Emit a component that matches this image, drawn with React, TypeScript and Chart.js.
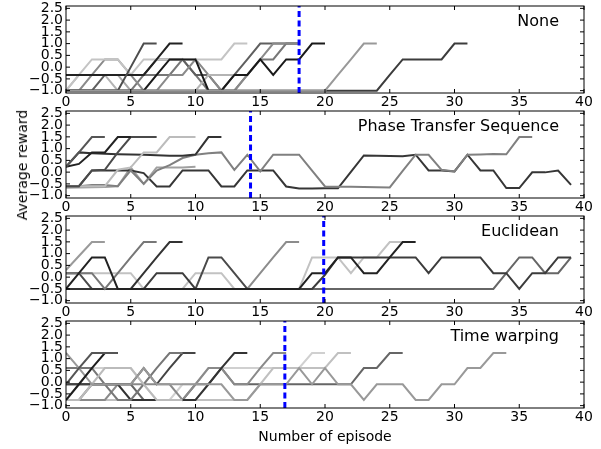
import React, { useEffect, useRef } from 'react';
import { Chart, registerables } from 'chart.js';

Chart.register(...registerables);
Chart.defaults.font.family = '"DejaVu Sans", sans-serif';

// ---------- axes / ticks ----------
const xTicks = [0, 5, 10, 15, 20, 25, 30, 35, 40];
const yTicks = [-1.0, -0.5, 0.0, 0.5, 1.0, 1.5, 2.0, 2.5];
const xMin = 0;
const xMax = 40;
const yMin = -1.1;
const yMax = 2.6;

const panelTitles = ['None', 'Phase Transfer Sequence', 'Euclidean', 'Time warping'];
const switchEpisodes = [18, 14.25, 19.9, 16.9];
const xLabel = 'Number of episode';
const yLabel = 'Average reward';

// ---------- panel 1 : None ----------
const noneSeries: number[][] = [
  [-1, -1, -1, -1, -1, -1, -1, -1, -1, -1, -1, -1, -1, -1, -1, -1, -1, -1, -1, -1, -1, -0.33, 0.33, 1, 1],
  [-1, -1, -1, -1, -1, -1, -1, -1, -1, -1, -1, -1, -1, -1, -1, -1, -1, -1, -1, -1, -1, -1, -1, -1, -1, -0.33, 0.33, 0.33, 0.33, 0.33, 1, 1],
  [-1, -1, -1, -1, -1, -1, -1, -0.33, 0.33, 0.33, 0.33, -1, -1, -0.33, -0.33, 0.33, -0.33, 0.33, 0.33, 1, 1],
  [-1, -1, -1, -1, -1, 0, 1, 1],
  [-0.33, -0.33, -0.33, -0.33, -0.33, -0.33, -0.33, 0.33, 1, 1],
  [-1, -0.33, 0.33, 0.33, 0.33, -0.33, 0.33, 0.33, 0.33, 0.33, 0.33, 0.33, 0.33, 1, 1],
  [-1, -0.33, -0.33, -0.33, -1, -1, -1, -1, -1, -1, -1, -0.33, -0.33, -0.33, -0.33],
  [-1, -1, -0.33, 0.33, 0.33, -0.33, -1, -1, -0.33, -0.33, 0.33, -0.33, -1, -1, -0.33, 0.33, 1, 1, 1],
  [-1, -1, -1, -0.33, -0.33, -0.33, -0.33, 0.33, 0.33, 0.33, -0.33, -0.33, -1, -0.33, 0.33, 1, 1, 1, 1],
  [-1, -1, -1, -1, -1, -1, -0.33, -0.33, -0.33, 0.33, -0.33, -1, -1, -1, -0.33, 0.33, 0.33, 1, 1],
  [-0.33, -0.33, -0.33, -0.33, -0.33, -1, -1, -1, -1, -1, -1, -1, -1, -1, -1, -1, -1, -1, -1, -1, -1],
];
const noneColors = ['#999999', '#3c3c3c', '#1a1a1a', '#4d4d4d', '#222222', '#c4c4c4', '#b4b4b4', '#8a8a8a', '#5f5f5f', '#777777', '#a8a8a8'];

// ---------- panel 2 : Phase Transfer Sequence ----------
const ptsSeries: number[][] = [
  [0.23, 0.84, 1.49, 1.49],
  [0.23, 0.35, 0.84, 0.84, 1.49, 1.49],
  [-0.6, -0.6, 0.07, 0.1, 0.84, 1.49, 1.49, 1.49],
  [-0.6, -0.6, -0.6, -0.6, 0.1, 0.2, 0.84, 0.84, 1.49, 1.49, 1.49],
  [0.23, 0.84, 0.8, 0.78, 0.76, 0.75, 0.74, 0.72, 0.7, 0.7, 0.75, 1.49, 1.49],
  [-0.6, -0.6, -0.55, -0.55, -0.6, 0.07, -0.5, 0.07, 0.3, 0.6, 0.74, 0.8, 0.84, 0.1, 0.74, 0.03, 0.74, 0.74, 0.74, 0.06,
    -0.61, -0.62, -0.62, -0.63, -0.64, -0.65, 0.05, 0.74, 0.74, 0.1, 0.03, 0.74, 0.75, 0.77, 0.76, 1.49, 1.49],
  [-0.6, -0.6, 0.07, 0.07, 0.07, 0.07, -0.04, -0.61, -0.61, 0.07, 0.07, 0.07, -0.61, -0.61, 0.07, 0.07, 0.07, -0.61, -0.7, -0.7,
    -0.69, -0.69, 0.01, 0.71, 0.7, 0.69, 0.68, 0.74, 0.07, 0.07, 0.03, 0.74, 0.07, 0.07, -0.68, -0.68, -0.01, -0.01, 0.07, -0.54],
  [-0.66, -0.65, -0.64, -0.63, -0.6, 0.2, -0.5, 0.2, 0.2, 0.2, 0.23],
];
const ptsColors = ['#555555', '#222222', '#4a4a4a', '#bcbcbc', '#333333', '#808080', '#363636', '#a0a0a0'];

// ---------- panel 3 : Euclidean ----------
const euclidSeries: number[][] = [
  [0.3, 0.9, 1.49, 1.49],
  [-0.5, 0.17, 0.84, 0.84, -0.5, -0.5, -0.5, -0.5, -0.5, -0.5, -0.5, -0.5, -0.5, -0.5, -0.5, -0.5, -0.5, -0.5, -0.5, 0.17,
    0.17, 0.84, 0.84, 0.17, 0.17, 0.84, 1.49, 1.49],
  [0.17, 0.17, 0.17, -0.5, 0.17, 0.84, 1.49, 1.49],
  [-0.5, -0.5, -0.5, -0.5, -0.5, -0.5, 0.17, 0.84, 1.49, 1.49],
  [-0.5, -0.5, -0.5, -0.5, -0.5, -0.5, -0.5, 0.17, 0.17, 0.17, -0.5, -0.5, -0.5, -0.5, -0.5, -0.5, -0.5, -0.5, -0.5, -0.5,
    0.1, 0.84, 0.84, 0.84, 0.84, 0.84, 0.84, 0.84, 0.17, 0.84, 0.84, 0.84, 0.84, 0.17, 0.17, -0.5, 0.17, 0.17, 0.84, 0.84],
  [0.17, 0.17, -0.5, -0.5, -0.5, -0.5, -0.5, -0.5, -0.5, -0.5, -0.5, 0.84, 0.84, 0.17, -0.5],
  [0.17, 0.17, 0.17, 0.17, 0.17, 0.17, -0.5, -0.5, -0.5, -0.5, 0.17, 0.17, 0.17, -0.5, -0.5, -0.5, -0.5, -0.5, -0.5, 0.84,
    0.84, 0.84, 0.17, 0.84, 0.84, 1.49, 1.49],
  [-0.5, -0.5, -0.5, -0.5, -0.5, -0.5, -0.5, -0.5, -0.5, -0.5, -0.5, -0.5, -0.5, -0.5, -0.5, 0.17, 0.84, 1.49, 1.49],
  [-0.5, -0.5, -0.5, -0.5, -0.5, -0.5, -0.5, -0.5, -0.5, -0.5, -0.5, -0.5, -0.5, -0.5, -0.5, -0.5, -0.5, -0.5, -0.5, -0.5,
    -0.5, -0.5, -0.5, -0.5, -0.5, -0.5, -0.5, -0.5, -0.5, -0.5, -0.5, -0.5, -0.5, -0.5, 0.17, 0.84, 0.84, 0.17, 0.17, 0.84],
];
const euclidColors = ['#9a9a9a', '#222222', '#777777', '#333333', '#3c3c3c', '#4a4a4a', '#c2c2c2', '#8c8c8c', '#666666'];

// ---------- panel 4 : Time warping ----------
const warpSeries: number[][] = [
  [-0.09, 0.6, 1.24, 1.24, 1.24],
  [-0.76, -0.09, 0.6, 1.24, 1.24],
  [1.24, 0.6, -0.09, -0.09, -0.09, -0.09, 0.6, -0.09, -0.09, -0.09, -0.09, -0.09, -0.09, -0.76, -0.76, -0.09, -0.09, -0.09, 0.6, -0.09,
    0.6, -0.09, -0.09, -0.76, -0.09, -0.09, -0.09, -0.76, -0.76, -0.09, -0.09, 0.6, 0.6, 1.24, 1.24],
  [-0.76, -0.76, -0.09, 0.6, 0.6, 0.6, -0.09, -0.76, -0.76, -0.76],
  [0.6, 0.6, 0.6, -0.09, -0.76, -0.76, -0.09, 0.6, 1.24, 1.24],
  [-0.09, -0.09, -0.09, -0.09, -0.09, -0.09, 0.6, -0.09, 0.6, 1.24, 1.24],
  [-0.09, -0.09, -0.09, -0.09, -0.09, -0.76, -0.76, -0.76, -0.76, -0.76, -0.76, -0.09, 0.6, 1.24, 1.24],
  [-0.76, -0.76, -0.76, -0.76, -0.09, -0.09, -0.09, -0.09, -0.09, -0.76, -0.09, 0.6, 0.6, -0.09, -0.09, 0.6, 1.24, 1.24],
  [-0.76, -0.76, -0.76, -0.76, -0.76, -0.76, -0.76, -0.76, -0.76, -0.76, -0.76, -0.76, -0.76, -0.76, -0.76, -0.09, 0.6, 0.6, 0.6, 0.6,
    0.6, 1.24, 1.24],
  [-0.76, -0.09, 0.6, 0.6, 0.6, 0.6, -0.09, -0.76, -0.76, -0.09, -0.09, 0.6, 0.6, 0.6, 0.6, 0.6, 0.6, 0.6, 0.6, 1.24, 1.24],
  [-0.76, -0.76, -0.09, -0.09, -0.09, -0.09, -0.76, -0.76, -0.76, -0.76, -0.09, -0.09, 0.6, -0.09, -0.09, -0.09, -0.09, -0.09, -0.09, -0.09,
    -0.09, -0.09, -0.09, 0.6, 0.6, 1.24, 1.24],
];
const warpColors = ['#555555', '#1e1e1e', '#999999', '#bbbbbb', '#777777', '#444444', '#333333', '#8a8a8a', '#c0c0c0', '#d0d0d0', '#666666'];

const panelSeries = [noneSeries, ptsSeries, euclidSeries, warpSeries];
const panelColors = [noneColors, ptsColors, euclidColors, warpColors];

// ---------- layout (pixels) ----------
const W = 601;
const PLOT_LEFT = 66;
const PLOT_RIGHT_PAD = 17;
const PAD_TOP = 10;
const PLOT_H = 87;
const panelTops = [6, 111, 216, 321];
const AXIS_H = 17;
const LAST_AXIS_H = 38;

const fmt = (v: number) => (v < 0 ? '\u2212' : '') + Math.abs(v).toFixed(1);

const framePlugin = {
  id: 'panelFrame',
  afterDraw(chart: any, _args: any, opts: any) {
    const { ctx, chartArea } = chart;
    const { left, right, top, bottom } = chartArea;
    const xs = chart.scales.x;
    const ys = chart.scales.y;
    ctx.save();
    ctx.strokeStyle = '#000';
    ctx.lineWidth = 1;
    ctx.strokeRect(left, top, right - left, bottom - top);
    ctx.beginPath();
    for (const v of xTicks) {
      const p = xs.getPixelForValue(v);
      ctx.moveTo(p, bottom);
      ctx.lineTo(p, bottom - 4);
      ctx.moveTo(p, top);
      ctx.lineTo(p, top + 4);
    }
    for (const v of yTicks) {
      const p = ys.getPixelForValue(v);
      ctx.moveTo(left, p);
      ctx.lineTo(left + 4, p);
      ctx.moveTo(right, p);
      ctx.lineTo(right - 4, p);
    }
    ctx.stroke();
    ctx.font = '16px "DejaVu Sans"';
    ctx.fillStyle = '#000';
    ctx.textAlign = 'right';
    ctx.textBaseline = 'alphabetic';
    ctx.fillText(opts.title, right - 25, top + 20);
    ctx.restore();
  },
};

export default function App() {
  const refs = [useRef<HTMLCanvasElement>(null), useRef<HTMLCanvasElement>(null), useRef<HTMLCanvasElement>(null), useRef<HTMLCanvasElement>(null)];

  useEffect(() => {
    const charts: Chart[] = [];
    panelSeries.forEach((series, i) => {
      const canvas = refs[i].current;
      if (!canvas) return;
      const last = i === panelSeries.length - 1;
      const axisH = last ? LAST_AXIS_H : AXIS_H;
      const datasets: any[] = [
        {
          data: [{ x: switchEpisodes[i], y: yMin }, { x: switchEpisodes[i], y: yMax }],
          borderColor: '#0000ff',
          borderWidth: 3,
          borderDash: [6, 3.5],
          pointRadius: 0,
        },
        ...series.map((vals, j) => ({
          data: vals.map((v, k) => ({ x: k, y: v })),
          borderColor: panelColors[i][j],
          borderWidth: 2,
          pointRadius: 0,
          tension: 0,
        })),
      ];
      const chart = new Chart(canvas, {
        type: 'line',
        data: { datasets },
        plugins: [framePlugin as any],
        options: {
          animation: false,
          responsive: false,
          events: [],
          layout: { padding: { top: PAD_TOP, right: PLOT_RIGHT_PAD, left: 0, bottom: 0 } },
          plugins: {
            legend: { display: false },
            tooltip: { enabled: false },
            panelFrame: { title: panelTitles[i] },
          } as any,
          scales: {
            x: {
              type: 'linear',
              min: xMin,
              max: xMax,
              grid: { display: false, drawTicks: false },
              border: { display: false },
              afterBuildTicks: (s: any) => {
                s.ticks = xTicks.map((v) => ({ value: v }));
              },
              afterFit: (s: any) => {
                s.height = axisH;
              },
              ticks: {
                autoSkip: false,
                maxRotation: 0,
                padding: 1,
                color: '#000',
                font: { size: 14 },
                callback: (v: any) => String(v),
              },
              title: {
                display: last,
                text: xLabel,
                color: '#000',
                font: { size: 14 },
                padding: { top: 0, bottom: 0 },
              },
            },
            y: {
              type: 'linear',
              min: yMin,
              max: yMax,
              grid: { display: false, drawTicks: false },
              border: { display: false },
              afterBuildTicks: (s: any) => {
                s.ticks = yTicks.map((v) => ({ value: v }));
              },
              afterFit: (s: any) => {
                s.width = PLOT_LEFT;
              },
              ticks: {
                autoSkip: false,
                padding: 3,
                color: '#000',
                font: { size: 14, lineHeight: 1 },
                callback: (v: any) => fmt(Number(v)),
              },
            },
          },
        } as any,
      });
      charts.push(chart);
    });
    return () => charts.forEach((c) => c.destroy());
  }, []);

  return (
    <div style={{ position: 'absolute', left: 0, top: 0, width: W, height: 449, background: '#fff' }}>
      {panelTops.map((t, i) => {
        const axisH = i === panelTops.length - 1 ? LAST_AXIS_H : AXIS_H;
        const h = PAD_TOP + PLOT_H + axisH;
        return (
          <canvas
            key={i}
            ref={refs[i]}
            width={W}
            height={h}
            style={{ position: 'absolute', left: 0, top: t - PAD_TOP, width: W, height: h }}
          />
        );
      })}
      <div
        style={{
          position: 'absolute',
          left: 22,
          top: 165,
          transform: 'translate(-50%, -50%) rotate(-90deg)',
          whiteSpace: 'nowrap',
          fontFamily: '"DejaVu Sans", sans-serif',
          fontSize: 14,
          fontWeight: 400,
          lineHeight: '16px',
          color: '#000',
        }}
      >
        {yLabel}
      </div>
    </div>
  );
}
